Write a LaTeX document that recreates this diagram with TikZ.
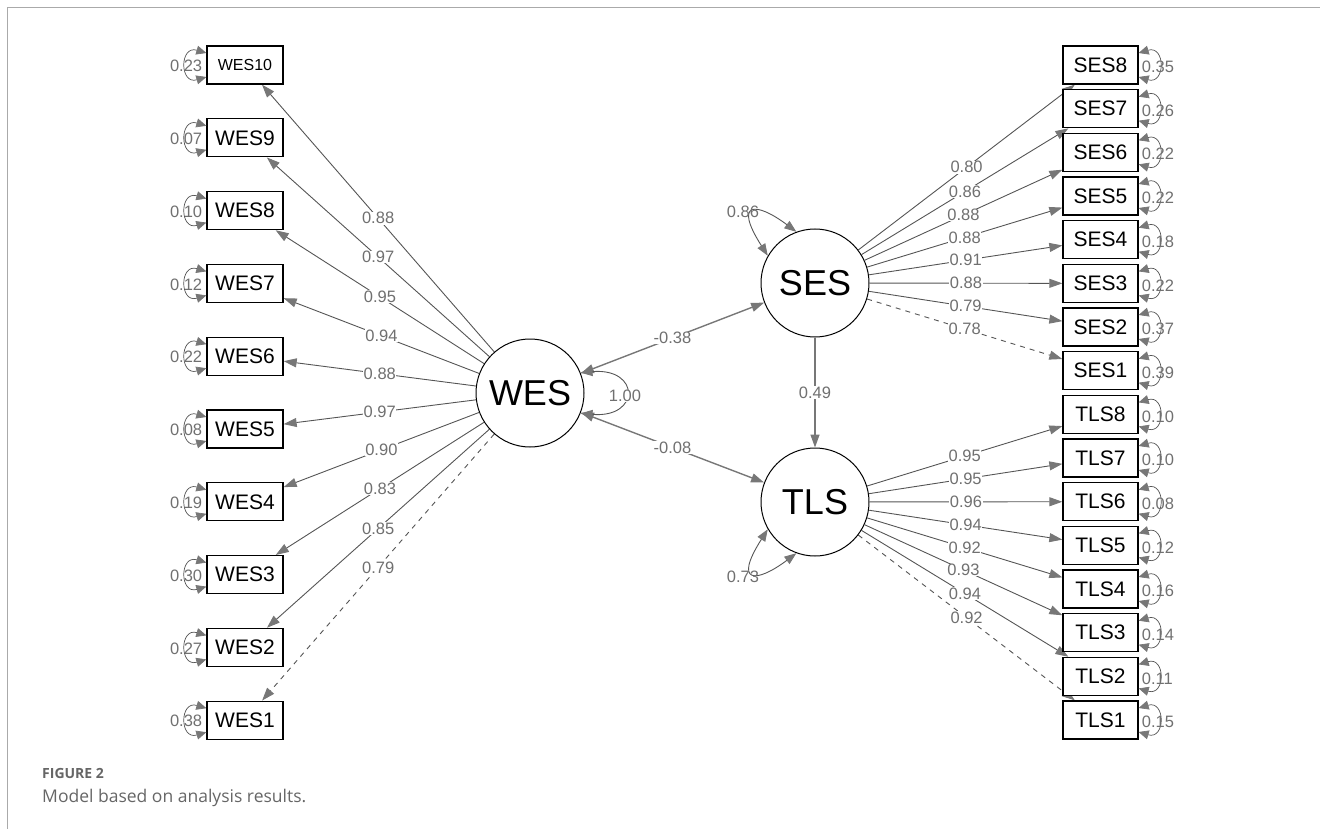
\documentclass[tikz,border=0pt]{standalone}
\usepackage{fontspec}
\setmainfont{Liberation Sans}
\newfontfamily\capfont{Open Sans}
\usetikzlibrary{arrows.meta,backgrounds}
\definecolor{edgegray}{HTML}{555555}
\definecolor{headgray}{HTML}{777777}
\definecolor{labgray}{HTML}{707070}
\definecolor{capgray}{HTML}{666666}
\definecolor{framegray}{HTML}{AAAAAA}
\tikzset{
  obs/.style={draw=black, line width=1.3pt, fill=white, minimum width=76pt, minimum height=38pt, inner sep=0pt, font=\fontsize{21}{21}\selectfont},
  lat/.style={circle, draw=black, line width=1pt, fill=white, minimum size=108pt, inner sep=0pt, font=\fontsize{36}{36}\selectfont},
  load/.style={edgegray, line width=0.9pt, -{Triangle[length=13pt,width=9pt,color=headgray]}},
  fixed/.style={dash pattern=on 5pt off 5pt},
  cov/.style={headgray, line width=1.4pt, {Triangle[length=13pt,width=9pt]}-{Triangle[length=13pt,width=9pt]}},
  reg/.style={headgray, line width=1.4pt, -{Triangle[length=13pt,width=9pt]}},
  lvar/.style={edgegray, line width=0.9pt, {Triangle[length=12pt,width=9pt,color=headgray]}-{Triangle[length=12pt,width=9pt,color=headgray]}},
  resid/.style={edgegray, line width=0.7pt, {Triangle[length=10pt,width=9pt,color=headgray]}-{Triangle[length=10pt,width=9pt,color=headgray]}},
  elab/.style={font=\fontsize{16.5}{16.5}\selectfont, text=labgray, fill=white, inner sep=0.6pt},
  rlab/.style={font=\fontsize{16.5}{16.5}\selectfont, text=labgray, inner sep=0pt},
}
\begin{document}
\begin{tikzpicture}[x=1pt,y=-1pt]
\useasboundingbox (0,0) rectangle (1320,829);
\draw[framegray, line width=1.5pt] (7.5,829) -- (7.5,7.5) -- (1320,7.5);
% latent variables
\node[lat] (WES) at (530,393) {WES};
\node[lat] (SES) at (815,283) {SES};
\node[lat] (TLS) at (815,502) {TLS};
% left observed
\node[obs, font=\fontsize{16}{16}\selectfont] (WES10) at (245,65) {WES10};
\foreach \n/\y in {WES9/137.8, WES8/210.6, WES7/283.4, WES6/356.2, WES5/429, WES4/501.8, WES3/574.6, WES2/647.4, WES1/720.2}
  \node[obs] (\n) at (245,\y) {\n};
% right observed
\foreach \n/\y in {SES8/65, SES7/108.7, SES6/152.3, SES5/196, SES4/239.7, SES3/283.4, SES2/327, SES1/370.7,
                   TLS8/414.4, TLS7/458, TLS6/501.7, TLS5/545.4, TLS4/589, TLS3/632.7, TLS2/676.4, TLS1/720}
  \node[obs, minimum width=75pt] (\n) at (1100.5,\y) {\n};
\begin{pgfonlayer}{background}
% loadings
\foreach \n/\v in {WES10/0.88, WES9/0.97, WES8/0.95, WES7/0.94, WES6/0.88, WES5/0.97, WES4/0.90, WES3/0.83, WES2/0.85}
  \draw[load] (WES) -- node[elab]{\v} (\n);
\draw[load, fixed] (WES) -- node[elab]{0.79} (WES1);
\foreach \n/\v in {SES8/0.80, SES7/0.86, SES6/0.88, SES5/0.88, SES4/0.91, SES3/0.88, SES2/0.79}
  \draw[load] (SES) -- node[elab]{\v} (\n);
\draw[load, fixed] (SES) -- node[elab]{0.78} (SES1);
\foreach \n/\v in {TLS8/0.95, TLS7/0.95, TLS6/0.96, TLS5/0.94, TLS4/0.92, TLS3/0.93, TLS2/0.94}
  \draw[load] (TLS) -- node[elab]{\v} (\n);
\draw[load, fixed] (TLS) -- node[elab]{0.92} (TLS1);
% structural
\draw[cov] (WES) -- node[elab]{-0.38} (SES);
\draw[cov] (WES) -- node[elab]{-0.08} (TLS);
\draw[reg] (SES) -- node[elab]{0.49} (TLS);
\end{pgfonlayer}
% latent variances
\draw[lvar] (WES.22) .. controls +(60,-5) and +(60,5) .. (WES.-22);
\node[elab] (vWES) at (625,396) {1.00};
\draw[lvar] (SES.150) .. controls +(-35,-55) and +(-40,-30) .. (SES.110);
\node[rlab] (vSES) at (743,212) {0.86};
\draw[lvar] (TLS.-150) .. controls +(-35,55) and +(-40,30) .. (TLS.-110);
\node[rlab] (vTLS) at (743,577) {0.73};
% residual variances left
\foreach \n/\r in {WES10/0.23, WES9/0.07, WES8/0.10, WES7/0.12, WES6/0.22, WES5/0.08, WES4/0.19, WES3/0.30, WES2/0.27, WES1/0.38} {
  \draw[resid] ([yshift=12pt]\n.west) .. controls +(-27,-8) and +(-27,8) .. ([yshift=-12pt]\n.west);
  \node[rlab, anchor=east] (r\n) at ([xshift=-4pt,yshift=-1pt]\n.west) {\r};
}
% residual variances right
\foreach \n/\r in {SES8/0.35, SES7/0.26, SES6/0.22, SES5/0.22, SES4/0.18, SES3/0.22, SES2/0.37, SES1/0.39,
                   TLS8/0.10, TLS7/0.10, TLS6/0.08, TLS5/0.12, TLS4/0.16, TLS3/0.14, TLS2/0.11, TLS1/0.15} {
  \draw[resid] ([yshift=12pt]\n.east) .. controls +(27,-8) and +(27,8) .. ([yshift=-12pt]\n.east);
  \node[rlab, anchor=west] (r\n) at ([xshift=3pt,yshift=-2pt]\n.east) {\r};
}
% caption
\node[anchor=base west, inner sep=0pt, text=capgray, font=\capfont\fontsize{14}{16}\selectfont\bfseries] (figno) at (42,778) {FIGURE 2};
\node[anchor=base west, inner sep=0pt, text=capgray, font=\capfont\fontsize{17.5}{20}\selectfont] (figcap) at (42,802) {Model based on analysis results.};
\end{tikzpicture}
\end{document}
